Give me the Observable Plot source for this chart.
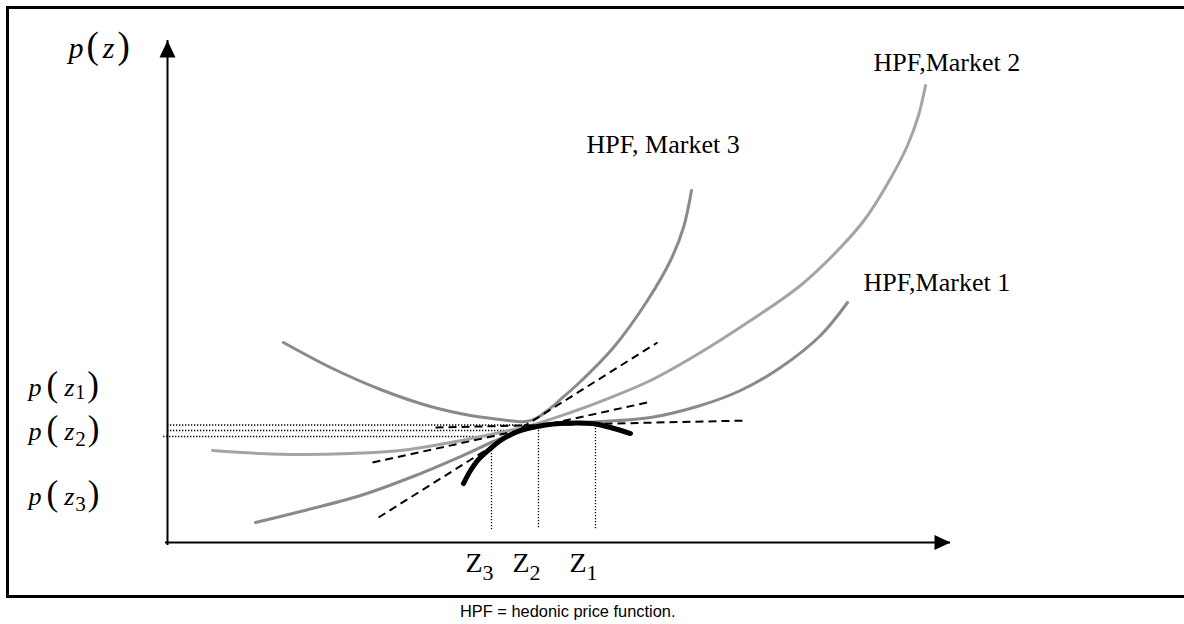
<!DOCTYPE html>
<html><head><meta charset="utf-8">
<script src="https://cdn.jsdelivr.net/npm/d3@7"></script>
<script src="https://cdn.jsdelivr.net/npm/@observablehq/plot@0.6"></script>
<style>
html,body{margin:0;padding:0;background:#fff;}
#wrap{position:relative;width:1184px;height:624px;overflow:hidden;}
#border{position:absolute;left:6px;top:6px;width:1200px;height:592px;box-sizing:border-box;border:3px solid #000;border-right:none;pointer-events:none;}
#caption{position:absolute;left:460px;top:603px;font-family:"Liberation Sans",Arial,sans-serif;font-size:16.4px;line-height:16.4px;color:#000;white-space:nowrap;}
</style></head>
<body><div id="wrap"><div id="chart"></div><div id="border"></div><div id="caption">HPF = hedonic price function.</div></div>
<script>
// ---- data (abstract diagram units: z on x, price on y) ----
const xDomain = [0, 100];
const yDomain = [0, 100];

const market1 = [[11.24,3.98],[16.99,6.18],[24.65,9.36],[31.03,12.95],[37.42,17.13],[41.63,20.12],[45.08,22.31],[48.28,23.51],[54.02,24.00],[61.69,24.90],[68.07,27.29],[73.18,30.28],[78.29,34.86],[83.40,41.24],[86.85,47.81]];
const market2 = [[5.75,18.33],[11.88,17.73],[16.99,17.53],[23.37,17.73],[29.76,18.33],[36.14,19.92],[41.25,21.51],[46.36,23.31],[51.47,25.90],[56.58,28.88],[61.69,32.27],[68.07,37.85],[74.46,44.22],[80.84,51.20],[85.95,58.76],[89.14,64.54],[92.34,72.51],[94.51,79.08],[95.91,85.06],[96.81,91.04]];
const market3 = [[14.81,39.84],[20.82,34.86],[27.20,30.48],[33.59,27.09],[38.70,25.30],[42.53,24.50],[44.44,24.14],[45.98,24.14],[47.25,24.90],[48.53,26.29],[50.19,28.49],[52.75,32.07],[56.96,38.84],[61.30,48.21],[64.24,56.18],[65.90,62.75],[66.92,70.12]];
const bidCurve = [[37.80,11.75],[38.70,14.34],[39.59,16.33],[41.25,18.73],[42.53,20.32],[44.44,21.91],[45.98,22.71],[48.28,23.41],[50.19,23.71],[52.75,23.80],[54.66,23.61],[56.58,22.91],[59.13,21.71]];

const tangentStart = [[26.95,4.98],[26.18,15.94],[34.23,22.91]];
const tangentEnd   = [[62.58,39.84],[61.30,27.89],[74.07,24.30]];

const zValues = [41.38, 47.38, 54.66];
const zLabels = ["Z3", "Z2", "Z1"];
const zCurveY = [18.92, 22.91, 23.31];
const zFloorY = [2.6, 2.6, 2.6];

const priceLevels = [23.41, 22.31, 21.12];
const priceLineStart = [0, 0, -0.5];
const priceLineEnd = [45.85, 44.44, 42.02];

const pTicks = [30.88, 22.01, 9.16];
const pLabels = ["p(z1)", "p(z2)", "p(z3)"];

const yTitle = {label: "p(z)", x: -12.64, y: 98.41};

const marketNames = ["HPF,Market 1", "HPF,Market 2", "HPF, Market 3"];
const marketLabelX = [88.89, 90.17, 53.51];
const marketLabelY = [50.06, 94.02, 77.55];

// ---- styles ----
const serif = "'Liberation Serif', 'Times New Roman', serif";
const upArrow = {draw(ctx) { ctx.moveTo(0, 0); ctx.lineTo(-8, 17); ctx.lineTo(8, 17); ctx.closePath(); }};
const rightArrow = {draw(ctx) { ctx.moveTo(0, 0); ctx.lineTo(-16, -7.5); ctx.lineTo(-16, 7.5); ctx.closePath(); }};

const pMap = new Map(pTicks.map((v, i) => [v, pLabels[i]]));
const zMap = new Map(zValues.map((v, i) => [v, zLabels[i]]));
const idx = d3.range(3);

const chart = Plot.plot({
  width: 1184, height: 600,
  marginLeft: 167, marginRight: 234, marginTop: 40, marginBottom: 58,
  x: {domain: xDomain},
  y: {domain: yDomain},
  style: {fontFamily: serif, color: "black", background: "transparent", overflow: "visible"},
  marks: [
    // dotted guides
    Plot.ruleY(idx, {y: i => priceLevels[i], x1: i => priceLineStart[i], x2: i => priceLineEnd[i], stroke: "black", strokeWidth: 1.3, strokeDasharray: "1.3,1.7"}),
    Plot.ruleX(idx, {x: i => zValues[i], y1: i => zCurveY[i], y2: i => zFloorY[i], stroke: "black", strokeWidth: 1.3, strokeDasharray: "1.3,1.7"}),
    // hedonic price functions
    Plot.line(market2, {curve: "catmull-rom", stroke: "#a4a4a4", strokeWidth: 3}),
    Plot.line(market1, {curve: "catmull-rom", stroke: "#8a8a8a", strokeWidth: 3}),
    Plot.line(market3, {curve: "catmull-rom", stroke: "#8a8a8a", strokeWidth: 3}),
    // tangents
    Plot.link(idx, {x1: i => tangentStart[i][0], y1: i => tangentStart[i][1], x2: i => tangentEnd[i][0], y2: i => tangentEnd[i][1], stroke: "black", strokeWidth: 2, strokeDasharray: "8,5"}),
    // bid curve
    Plot.line(bidCurve, {curve: "catmull-rom", stroke: "black", strokeWidth: 5}),
    // axes
    Plot.ruleX([xDomain[0]], {stroke: "black", strokeWidth: 2, insetBottom: -3}),
    Plot.ruleY([yDomain[0]], {stroke: "black", strokeWidth: 2, insetLeft: -2}),
    Plot.dot([[xDomain[0], yDomain[1]]], {symbol: upArrow, r: 5, fill: "black", stroke: "none"}),
    Plot.dot([[xDomain[1], yDomain[0]]], {symbol: rightArrow, r: 5, fill: "black", stroke: "none"}),
    Plot.axisY({ticks: pTicks, tickFormat: d => pMap.get(d), tickSize: 0, tickPadding: 139, textAnchor: "start", fontSize: 26, fontFamily: serif, label: null}),
    Plot.axisX({ticks: zValues, tickFormat: d => zMap.get(d), tickSize: 0, tickPadding: 10, dx: -12, fontSize: 28, fontFamily: serif, label: null}),
    // labels
    Plot.text([yTitle], {x: "x", y: "y", text: "label", textAnchor: "start", fontSize: 30, fontFamily: serif}),
    Plot.text(idx, {x: i => marketLabelX[i], y: i => marketLabelY[i], text: i => marketNames[i], textAnchor: "start", lineAnchor: "bottom", fontSize: 26, fontFamily: serif})
  ]
});

// math-style formatting of the symbol labels (italic letters, larger parentheses, subscripts)
const mathSpecs = {
  "p(z)":  [["p",30,true,0,0],["(",37,false,3,0],["z",30,true,4,0],[")",37,false,3,0]],
  "p(z1)": [["p",26,true,0,0],["(",35,false,5,0],["z",26,true,6,0],["1",20,false,1,3],[")",35,false,2,-3]],
  "p(z2)": [["p",26,true,0,0],["(",35,false,5,0],["z",26,true,6,0],["2",21,false,1,6],[")",35,false,2,-6]],
  "p(z3)": [["p",26,true,0,0],["(",35,false,5,0],["z",26,true,6,0],["3",21,false,1,6],[")",35,false,2,-6]],
  "Z3": [["Z",28,false,0,0],["3",22,false,0,8]],
  "Z2": [["Z",28,false,0,0],["2",22,false,0,8]],
  "Z1": [["Z",28,false,0,0],["1",22,false,0,8]]
};
const NS = "http://www.w3.org/2000/svg";
chart.querySelectorAll("text").forEach(t => {
  const spec = mathSpecs[t.textContent];
  if (!spec) return;
  while (t.firstChild) t.removeChild(t.firstChild);
  for (const [s, size, italic, dx, dy] of spec) {
    const ts = document.createElementNS(NS, "tspan");
    ts.textContent = s;
    ts.setAttribute("font-size", size);
    ts.setAttribute("font-style", italic ? "italic" : "normal");
    if (dx) ts.setAttribute("dx", dx);
    if (dy) ts.setAttribute("dy", dy);
    t.appendChild(ts);
  }
});
document.getElementById("chart").appendChild(chart);
</script></body></html>
